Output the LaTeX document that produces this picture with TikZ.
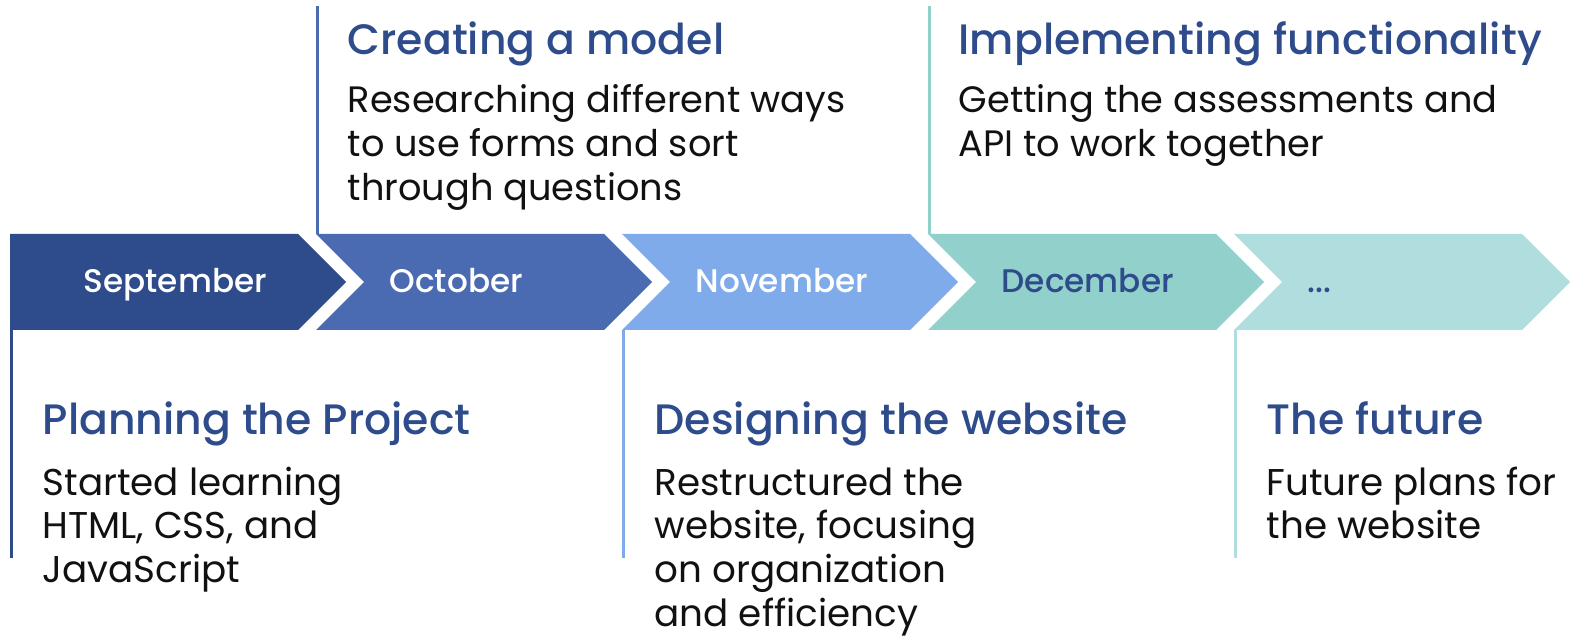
\documentclass[tikz,border=0pt]{standalone}
\usepackage{fontspec}
\setmainfont{Poppins}
\newfontfamily\titlefont{Poppins Medium}
\newfontfamily\bodyfont{Poppins}
\definecolor{cA}{HTML}{2E4B8B}
\definecolor{cB}{HTML}{4A6AB2}
\definecolor{cC}{HTML}{7FABEB}
\definecolor{cD}{HTML}{92D1CB}
\definecolor{cE}{HTML}{B0DDDD}
\definecolor{ttl}{HTML}{2E4B8B}
\definecolor{txt}{HTML}{111111}
\newcommand\txtlines[1]{\vtop{\halign{##\hfil\cr#1\crcr}}}
\tikzset{
  month/.style={anchor=base west, inner sep=0pt, font=\titlefont\fontsize{9.3}{12}\selectfont},
  ttlnode/.style={anchor=base west, inner sep=0pt, text=ttl, font=\titlefont\fontsize{12.1}{15}\selectfont},
  bodynode/.style={anchor=base west, inner sep=0pt, text=txt, font=\bodyfont\fontsize{10.6}{12.5}\selectfont},
  topbody/.style={bodynode, font=\bodyfont\fontsize{10.45}{12.5}\selectfont},
  vline/.style={line width=0.85pt},
}
\begin{document}
\begin{tikzpicture}[x=0.01cm,y=-0.01cm]
\useasboundingbox (0,0) rectangle (1588,643);
% chevrons
\fill[cA] (10,234) -- (298,234) -- (346,282) -- (298,330) -- (10,330) -- cycle;
\foreach \L/\c in {316/cB,622/cC,928/cD,1234/cE}{
  \fill[\c] (\L,234) -- (\L+288,234) -- (\L+336,282) -- (\L+288,330) -- (\L,330) -- (\L+48,282) -- cycle;
}
% month labels
\node[month, text=white] (sep) at (83,293) {September};
\node[month, text=white] (oct) at (389,293) {October};
\node[month, text=white] (nov) at (695,293) {November};
\node[month, text=ttl] (dec) at (1001,293) {December};
\node[month, text=ttl] (dots) at (1307,293) {...};
% vertical lines
\coordinate (l1a) at (11.5,330); \coordinate (l1b) at (11.5,558);
\coordinate (l2a) at (317.5,6);  \coordinate (l2b) at (317.5,234);
\coordinate (l3a) at (623.5,330); \coordinate (l3b) at (623.5,558);
\coordinate (l4a) at (929.5,6);  \coordinate (l4b) at (929.5,234);
\coordinate (l5a) at (1235.5,330); \coordinate (l5b) at (1235.5,558);
\draw[vline, cA] (l1a) -- (l1b);
\draw[vline, cB] (l2a) -- (l2b);
\draw[vline, cC] (l3a) -- (l3b);
\draw[vline, cD] (l4a) -- (l4b);
\draw[vline, cE] (l5a) -- (l5b);
% titles
\node[ttlnode] (t1) at (42,435) {Planning the Project};
\node[ttlnode] (t2) at (347,55) {Creating a model};
\node[ttlnode] (t3) at (654,435) {Designing the website};
\node[ttlnode] (t4) at (958,55) {Implementing functionality};
\node[ttlnode] (t5) at (1266,435) {The future};
% bodies
\node[bodynode] (b1) at (42,495) {\txtlines{Started learning\cr HTML, CSS, and\cr JavaScript}};
\node[topbody] (b2) at (347,113) {\txtlines{Researching different ways\cr to use forms and sort\cr through questions}};
\node[bodynode] (b3) at (654,495) {\txtlines{Restructured the\cr website, focusing\cr on organization\cr and efficiency}};
\node[topbody] (b4) at (958,113) {\txtlines{Getting the assessments and\cr API to work together}};
\node[bodynode] (b5) at (1266,495) {\txtlines{Future plans for\cr the website}};
\end{tikzpicture}
\end{document}
